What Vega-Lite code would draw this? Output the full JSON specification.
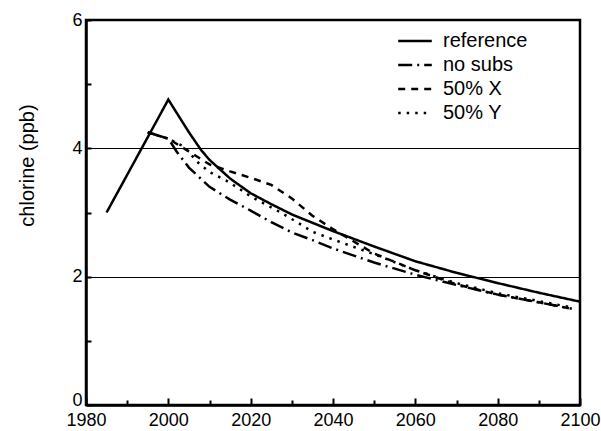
{
  "$schema": "https://vega.github.io/schema/vega-lite/v6.json",
  "width": 494,
  "height": 385,
  "autosize": {"type": "none"},
  "padding": {"left": 86, "top": 20, "right": 21, "bottom": 26},
  "background": "white",
  "config": {
    "view": {"stroke": "black", "strokeWidth": 2.5},
    "font": "Liberation Sans"
  },
  "data": {
    "values": [
      {"series": "reference", "year": 1985, "cl": 3.0},
      {"series": "reference", "year": 2000, "cl": 4.76},
      {"series": "reference", "year": 2005, "cl": 4.25},
      {"series": "reference", "year": 2008, "cl": 3.97},
      {"series": "reference", "year": 2010, "cl": 3.82},
      {"series": "reference", "year": 2015, "cl": 3.53},
      {"series": "reference", "year": 2020, "cl": 3.3},
      {"series": "reference", "year": 2025, "cl": 3.13},
      {"series": "reference", "year": 2030, "cl": 2.97},
      {"series": "reference", "year": 2035, "cl": 2.84},
      {"series": "reference", "year": 2040, "cl": 2.71},
      {"series": "reference", "year": 2050, "cl": 2.47},
      {"series": "reference", "year": 2060, "cl": 2.24},
      {"series": "reference", "year": 2070, "cl": 2.06},
      {"series": "reference", "year": 2080, "cl": 1.9},
      {"series": "reference", "year": 2090, "cl": 1.75},
      {"series": "reference", "year": 2100, "cl": 1.61},
      {"series": "no subs", "year": 1995, "cl": 4.25},
      {"series": "no subs", "year": 2000, "cl": 4.15},
      {"series": "no subs", "year": 2002, "cl": 3.95},
      {"series": "no subs", "year": 2005, "cl": 3.7},
      {"series": "no subs", "year": 2010, "cl": 3.4},
      {"series": "no subs", "year": 2015, "cl": 3.2},
      {"series": "no subs", "year": 2020, "cl": 3.03},
      {"series": "no subs", "year": 2025, "cl": 2.85},
      {"series": "no subs", "year": 2030, "cl": 2.69},
      {"series": "no subs", "year": 2035, "cl": 2.57},
      {"series": "no subs", "year": 2040, "cl": 2.44},
      {"series": "no subs", "year": 2050, "cl": 2.22},
      {"series": "no subs", "year": 2060, "cl": 2.03},
      {"series": "no subs", "year": 2070, "cl": 1.87},
      {"series": "no subs", "year": 2080, "cl": 1.72},
      {"series": "no subs", "year": 2090, "cl": 1.6},
      {"series": "no subs", "year": 2098, "cl": 1.5},
      {"series": "50% X", "year": 1995, "cl": 4.25},
      {"series": "50% X", "year": 2000, "cl": 4.15},
      {"series": "50% X", "year": 2005, "cl": 3.95},
      {"series": "50% X", "year": 2010, "cl": 3.75},
      {"series": "50% X", "year": 2015, "cl": 3.64},
      {"series": "50% X", "year": 2020, "cl": 3.54},
      {"series": "50% X", "year": 2025, "cl": 3.43},
      {"series": "50% X", "year": 2030, "cl": 3.22},
      {"series": "50% X", "year": 2035, "cl": 2.95},
      {"series": "50% X", "year": 2040, "cl": 2.74},
      {"series": "50% X", "year": 2050, "cl": 2.36},
      {"series": "50% X", "year": 2060, "cl": 2.1},
      {"series": "50% X", "year": 2070, "cl": 1.88},
      {"series": "50% X", "year": 2080, "cl": 1.72},
      {"series": "50% X", "year": 2090, "cl": 1.6},
      {"series": "50% X", "year": 2098, "cl": 1.5},
      {"series": "50% Y", "year": 1995, "cl": 4.25},
      {"series": "50% Y", "year": 2000, "cl": 4.15},
      {"series": "50% Y", "year": 2004, "cl": 4.02},
      {"series": "50% Y", "year": 2007, "cl": 3.79},
      {"series": "50% Y", "year": 2010, "cl": 3.63},
      {"series": "50% Y", "year": 2014, "cl": 3.5},
      {"series": "50% Y", "year": 2017, "cl": 3.38},
      {"series": "50% Y", "year": 2020, "cl": 3.25},
      {"series": "50% Y", "year": 2027, "cl": 3.01},
      {"series": "50% Y", "year": 2031, "cl": 2.86},
      {"series": "50% Y", "year": 2035, "cl": 2.7},
      {"series": "50% Y", "year": 2040, "cl": 2.58},
      {"series": "50% Y", "year": 2050, "cl": 2.35},
      {"series": "50% Y", "year": 2060, "cl": 2.1},
      {"series": "50% Y", "year": 2070, "cl": 1.9},
      {"series": "50% Y", "year": 2080, "cl": 1.74},
      {"series": "50% Y", "year": 2090, "cl": 1.62},
      {"series": "50% Y", "year": 2098, "cl": 1.52}
    ]
  },
  "mark": {"type": "line", "color": "black", "strokeWidth": 2.5, "strokeCap": "butt"},
  "encoding": {
    "x": {
      "field": "year",
      "type": "quantitative",
      "scale": {"domain": [1980, 2100], "nice": false, "zero": false},
      "axis": {
        "values": [1980, 1990, 2000, 2010, 2020, 2030, 2040, 2050, 2060, 2070, 2080, 2090, 2100],
        "format": "d",
        "labelExpr": "datum.value % 20 === 0 ? datum.label : ''",
        "grid": false,
        "title": null,
        "domainColor": "black",
        "domainWidth": 2.5,
        "tickColor": "black",
        "tickWidth": 2,
        "tickSize": {"condition": {"test": "datum.value % 20 === 0", "value": -7}, "value": -5},
        "labelFontSize": 18,
        "labelColor": "black",
        "labelPadding": 13,
        "labelFlush": false,
        "labelOverlap": false,
        "labelBound": false
      }
    },
    "y": {
      "field": "cl",
      "type": "quantitative",
      "scale": {"domain": [0, 6], "nice": false},
      "axis": {
        "values": [0, 1, 2, 3, 4, 5, 6],
        "labelExpr": "datum.value % 2 === 0 ? datum.label : ''",
        "labelBaseline": {"condition": {"test": "datum.value == 0", "value": "alphabetic"}, "value": "middle"},
        "grid": true,
        "gridColor": "black",
        "gridWidth": 1.2,
        "gridOpacity": {"condition": {"test": "datum.value == 2 || datum.value == 4", "value": 1}, "value": 0},
        "title": "chlorine (ppb)",
        "titleFontSize": 20,
        "titleFontWeight": "normal",
        "titleColor": "black",
        "titleX": -59,
        "titleY": 145,
        "titleBaseline": "middle",
        "domainColor": "black",
        "domainWidth": 2.5,
        "tickColor": "black",
        "tickWidth": 2,
        "tickSize": -5,
        "labelFontSize": 18,
        "labelColor": "black",
        "labelPadding": 9,
        "labelFlush": false,
        "labelOverlap": false,
        "labelBound": false
      }
    },
    "strokeDash": {
      "field": "series",
      "type": "nominal",
      "scale": {
        "domain": ["reference", "no subs", "50% X", "50% Y"],
        "range": [[1, 0], [14, 5, 2, 5], [7, 6], [2.5, 6]]
      },
      "legend": {
        "orient": "none",
        "legendX": 317,
        "legendY": 9,
        "title": null,
        "labelFontSize": 20,
        "labelColor": "black",
        "symbolType": "M-1.6,0H1.6",
        "symbolSize": 441,
        "symbolStrokeWidth": 2.5,
        "symbolStrokeColor": "black",
        "labelOffset": 16,
        "rowPadding": 2,
        "padding": 0
      }
    }
  }
}
